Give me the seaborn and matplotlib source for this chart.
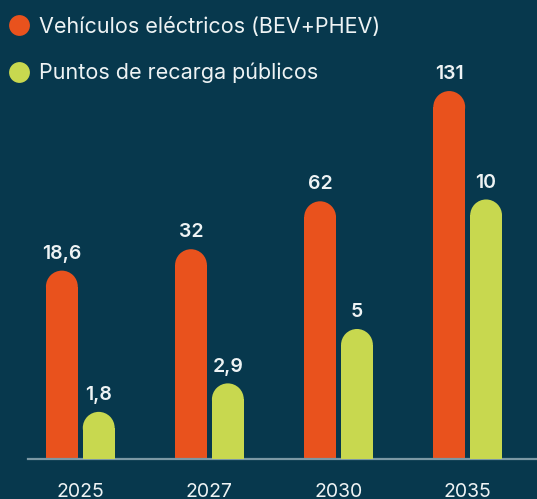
import pandas as pd
import matplotlib.pyplot as plt
import seaborn as sns
from matplotlib.patches import Ellipse
from matplotlib.lines import Line2D

# Data
years = ["2025", "2027", "2030", "2035"]
ev_values = [18.6, 32, 62, 131]
charger_values = [1.8, 2.9, 5, 10]
series_names = ["Vehículos eléctricos (BEV+PHEV)", "Puntos de recarga públicos"]

BG = "#07384d"
ORANGE = "#e9521d"
YELLOW = "#c8d84f"
TEXT = "#eef3f4"
LINE = "#7b98a4"

df = pd.DataFrame({
    "year": years * 2,
    "value": ev_values + charger_values,
    "series": [series_names[0]] * len(years) + [series_names[1]] * len(years),
})

sns.set_style("white")
plt.rcParams["font.family"] = ["Inter", "DejaVu Sans"]

fig = plt.figure(figsize=(5.37, 4.99), dpi=100, facecolor=BG)
ax = fig.add_axes([28 / 537, 1 - 458.5 / 499, 509 / 537, 458.5 / 499])
ax.set_facecolor(BG)
ax2 = ax.twinx()
ax2.set_facecolor("none")

bar_kws = dict(x="year", y="value", hue="series", hue_order=series_names,
               order=years, palette=[ORANGE, YELLOW], width=0.571, gap=0.136,
               dodge=True, saturation=1, errorbar=None, legend=False, linewidth=0)
sns.barplot(data=df[df["series"] == series_names[0]], ax=ax, **bar_kws)
sns.barplot(data=df[df["series"] == series_names[1]], ax=ax2, **bar_kws)

# the two series use their own vertical scales, like the original
ax.set_xlim(-0.405, 3.537)
ax.set_ylim(-99, 188)
ax2.set_ylim(0, 17.7)


def round_tops(axis, values):
    p0 = axis.transData.transform((0, 0))
    p1 = axis.transData.transform((1, 1))
    aspect = (p1[0] - p0[0]) / (p1[1] - p0[1])
    bottom = axis.get_ylim()[0]
    bars = sorted(list(axis.patches), key=lambda b: b.get_x())
    for bar, v in zip(bars, values):
        x, w = bar.get_x(), bar.get_width()
        top = bar.get_y() + bar.get_height()
        r = w / 2 * aspect
        bar.set_y(bottom)
        bar.set_height(top - r - bottom)
        axis.add_patch(Ellipse((x + w / 2, top - r), w, 2 * r,
                               facecolor=bar.get_facecolor(), linewidth=0))
        label = f"{v:g}".replace(".", ",")
        axis.annotate(label, (x + w / 2, top), xytext=(0, 8.5),
                      textcoords="offset points", ha="center", va="baseline",
                      fontsize=14, fontweight="semibold", color=TEXT)


round_tops(ax, ev_values)
round_tops(ax2, charger_values)

for a in (ax, ax2):
    a.set_xlabel("")
    a.set_ylabel("")
    a.set_yticks([])
    for s in a.spines.values():
        s.set_visible(False)
ax.spines["bottom"].set_visible(True)
ax.spines["bottom"].set_color(LINE)
ax.spines["bottom"].set_linewidth(1.6)
ax.tick_params(axis="x", length=0, pad=17.5, labelsize=14, labelcolor=TEXT)

handles = [Line2D([], [], marker="o", linestyle="", markersize=15,
                  markerfacecolor=c, markeredgewidth=0) for c in (ORANGE, YELLOW)]
fig.legend(handles, series_names, loc="upper left",
           bbox_to_anchor=(8 / 537, 1 - 17 / 499), frameon=False,
           fontsize=15.5, labelcolor=TEXT, handlelength=1.0, handletextpad=0.45,
           labelspacing=1.2, borderpad=0, borderaxespad=0)

fig.savefig("out.png", dpi=100, facecolor=BG)
